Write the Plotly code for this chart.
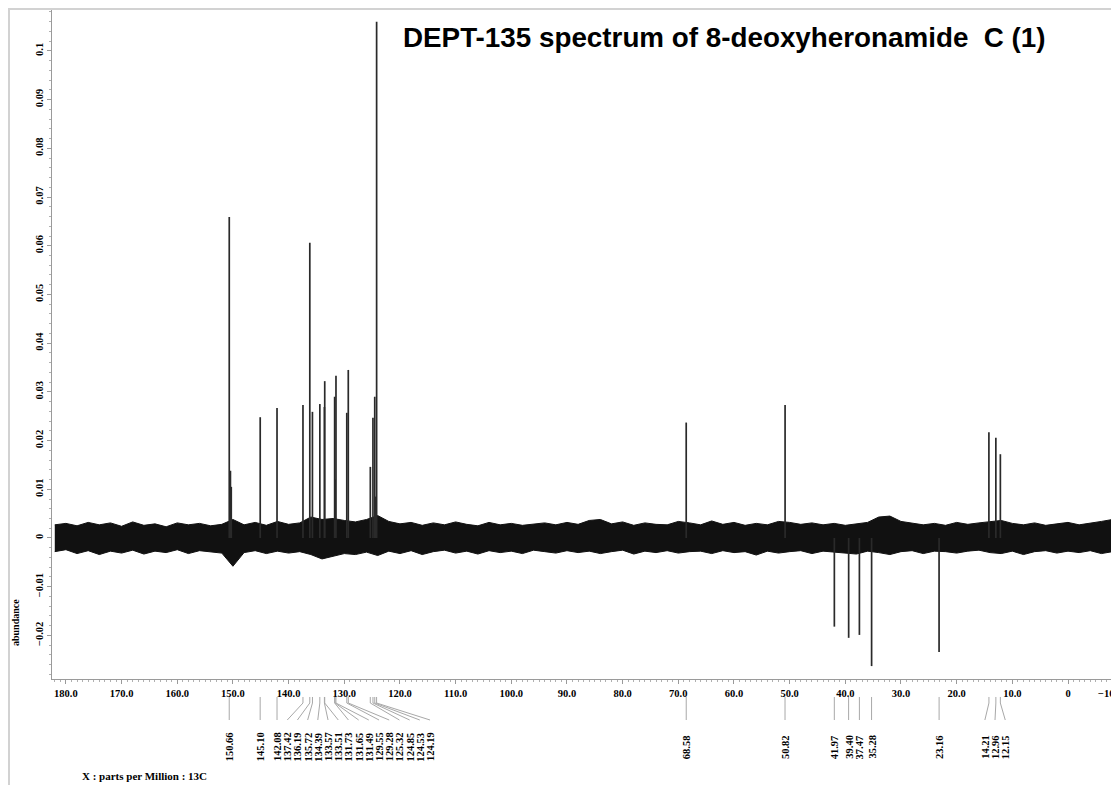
import plotly.graph_objects as go

# ---------------- data ----------------
peak_ppm = [150.66, 145.10, 142.08, 137.42, 136.19, 135.72, 134.39, 133.57, 133.51,
            131.73, 131.65, 131.49, 129.55, 129.28, 125.32, 124.85, 124.53, 124.19,
            68.58, 50.82, 41.97, 39.40, 37.47, 35.28, 23.16, 14.21, 12.96, 12.15]
peak_height = [0.0659, 0.0248, 0.0267, 0.0273, 0.0606, 0.0259, 0.0275, 0.0269, 0.0322,
               0.0290, 0.0120, 0.0333, 0.0257, 0.0345, 0.0146, 0.0247, 0.0290, 0.1060,
               0.0237, 0.0273, -0.0182, -0.0205, -0.0199, -0.0263, -0.0234, 0.0217, 0.0206, 0.0172]
peak_labels = ["150.66", "145.10", "142.08", "137.42", "136.19", "135.72", "134.39", "133.57", "133.51",
               "131.73", "131.65", "131.49", "129.55", "129.28", "125.32", "124.85", "124.53", "124.19",
               "68.58", "50.82", "41.97", "39.40", "37.47", "35.28", "23.16", "14.21", "12.96", "12.15"]

shoulder_ppm = [150.45, 150.30, 124.35]
shoulder_height = [0.0138, 0.0105, 0.0085]

# baseline noise envelope, read every 2 ppm from 182 down to -10
noise_ppm = list(range(182, -11, -2))
noise_hi = [0.0027, 0.0030, 0.0025, 0.0032, 0.0027, 0.0031, 0.0024, 0.0033, 0.0026, 0.0029,
            0.0023, 0.0031, 0.0027, 0.0030, 0.0025, 0.0028, 0.0038, 0.0027, 0.0032, 0.0026,
            0.0034, 0.0028, 0.0031, 0.0043, 0.0038, 0.0040, 0.0036, 0.0033, 0.0038, 0.0046,
            0.0034, 0.0029, 0.0032, 0.0026, 0.0031, 0.0027, 0.0033, 0.0028, 0.0025, 0.0032,
            0.0027, 0.0030, 0.0026, 0.0029, 0.0031, 0.0027, 0.0032, 0.0028, 0.0036, 0.0038,
            0.0029, 0.0033, 0.0026, 0.0031, 0.0028, 0.0027, 0.0034, 0.0031, 0.0027, 0.0035,
            0.0028, 0.0032, 0.0026, 0.0030, 0.0027, 0.0034, 0.0032, 0.0028, 0.0031, 0.0027,
            0.0030, 0.0026, 0.0029, 0.0032, 0.0043, 0.0045, 0.0034, 0.0031, 0.0027, 0.0030,
            0.0026, 0.0032, 0.0028, 0.0031, 0.0034, 0.0036, 0.0030, 0.0027, 0.0031, 0.0026,
            0.0029, 0.0032, 0.0027, 0.0030, 0.0034, 0.0038, 0.0033]
noise_lo = [-0.0028, -0.0024, -0.0032, -0.0026, -0.0034, -0.0027, -0.0031, -0.0025, -0.0033, -0.0027,
            -0.0030, -0.0024, -0.0032, -0.0026, -0.0028, -0.0031, -0.0058, -0.0030, -0.0026, -0.0032,
            -0.0027, -0.0031, -0.0028, -0.0034, -0.0043, -0.0038, -0.0032, -0.0034, -0.0029, -0.0036,
            -0.0027, -0.0032, -0.0026, -0.0034, -0.0028, -0.0025, -0.0031, -0.0027, -0.0033, -0.0026,
            -0.0030, -0.0027, -0.0032, -0.0025, -0.0028, -0.0031, -0.0026, -0.0030, -0.0027, -0.0032,
            -0.0028, -0.0025, -0.0033, -0.0027, -0.0030, -0.0026, -0.0031, -0.0028, -0.0027, -0.0032,
            -0.0026, -0.0030, -0.0028, -0.0035, -0.0027, -0.0031, -0.0028, -0.0026, -0.0032, -0.0027,
            -0.0030, -0.0031, -0.0033, -0.0027, -0.0030, -0.0034, -0.0028, -0.0026, -0.0032, -0.0027,
            -0.0028, -0.0031, -0.0027, -0.0025, -0.0030, -0.0032, -0.0027, -0.0034, -0.0028, -0.0026,
            -0.0031, -0.0027, -0.0030, -0.0026, -0.0032, -0.0028, -0.0031]

x_tick_vals = [180, 170, 160, 150, 140, 130, 120, 110, 100, 90, 80, 70, 60, 50, 40, 30, 20, 10, 0]
x_tick_text = ["180.0", "170.0", "160.0", "150.0", "140.0", "130.0", "120.0", "110.0", "100.0",
               "90.0", "80.0", "70.0", "60.0", "50.0", "40.0", "30.0", "20.0", "10.0", "0"]
x_extra_text = "\u221210."

title_text = "DEPT-135 spectrum of 8-deoxyheronamide  C (1)"
y_title = "abundance"
x_footer = "X : parts per Million : 13C"

# ---------------- layout geometry ----------------
OFF = 8                      # page body margin of the html page
SW, SH = 1119, 785           # screen size
W, H = SW - OFF, SH - OFF    # figure size
# plot area in screen pixels: x 52..1119, y 10..679
ML, MR, MT, MB = 52 - OFF, 0, 10 - OFF, H - (679 - OFF)
PW = W - ML - MR
PH = H - MT - MB
XR = [182.5, -9.16]
YR = [-0.02895, 0.1084]

SERIF = "Times New Roman, Liberation Serif, serif"
SANS = "Arial, Liberation Sans, sans-serif"


def ppm_to_px(p):
    """screen x pixel of a ppm value"""
    return OFF + ML + (XR[0] - p) / (XR[0] - XR[1]) * PW


def pxx(sx):
    return (sx - OFF - ML) / PW


def pxy(sy):
    return (H - MB - (sy - OFF)) / PH


# ---------------- label spreading: centre clusters, push right ----------------
GAP = 10.2
order = sorted(range(len(peak_ppm)), key=lambda i: ppm_to_px(peak_ppm[i]))
peak_px = [ppm_to_px(peak_ppm[i]) for i in order]


def place(cl):
    c = sum(peak_px[k] for k in cl) / len(cl)
    n = len(cl)
    return [c + (j - (n - 1) / 2) * GAP for j in range(n)]


label_px_sorted = []
k = 0
n_all = len(order)
while k < n_all:
    cl = [k]
    k += 1
    while k < n_all and place([k])[0] - place(cl)[-1] < GAP:
        cl.append(k)
        k += 1
    pos = place(cl)
    if label_px_sorted and pos[0] - label_px_sorted[-1] < GAP:
        shift = label_px_sorted[-1] + GAP - pos[0]
        pos = [p + shift for p in pos]
    label_px_sorted += pos

label_px = [0] * len(peak_ppm)
for j, i in enumerate(order):
    label_px[i] = label_px_sorted[j]

# ---------------- traces ----------------
fig = go.Figure()

band_x = noise_ppm + noise_ppm[::-1]
band_y = noise_hi + noise_lo[::-1]
fig.add_trace(go.Scatter(x=band_x, y=band_y, mode="lines", fill="toself",
                         fillcolor="#111111", line=dict(color="#111111", width=1),
                         hoverinfo="skip", showlegend=False))

sx, sy = [], []
for p, h in zip(list(peak_ppm) + shoulder_ppm, list(peak_height) + shoulder_height):
    sx += [p, p, None]
    sy += [0, h, None]
fig.add_trace(go.Scatter(x=sx, y=sy, mode="lines",
                         line=dict(color="#2a2a2a", width=1.7),
                         showlegend=False, hoverinfo="skip"))

# ---------------- annotations & shapes ----------------
ann = []
shapes = []
for i, lab in enumerate(peak_labels):
    p0 = ppm_to_px(peak_ppm[i])
    lx = label_px[i]
    path = "M {:.4f},{:.4f} L {:.4f},{:.4f} L {:.4f},{:.4f}".format(
        pxx(p0), pxy(697), pxx(p0), pxy(703), pxx(lx), pxy(720))
    shapes.append(dict(type="path", xref="paper", yref="paper", path=path,
                       line=dict(color="#a8a8a8", width=1)))
    ann.append(dict(x=pxx(lx), y=pxy(747), xref="paper", yref="paper", text=lab,
                    showarrow=False, textangle=-90, xanchor="center", yanchor="middle",
                    font=dict(family=SERIF, size=10.5, color="black", weight="bold")))

ann.append(dict(x=pxx(SW), y=pxy(693), xref="paper", yref="paper",
                text=x_extra_text, showarrow=False, xanchor="right", yanchor="middle",
                font=dict(family=SERIF, size=10.5, color="black", weight="bold")))
ann.append(dict(x=pxx(724), y=pxy(37), xref="paper", yref="paper", text=title_text,
                showarrow=False, xanchor="center", yanchor="middle",
                font=dict(family=SANS, size=27.8, color="black", weight="bold")))
ann.append(dict(x=pxx(15), y=pxy(623), xref="paper", yref="paper", text=y_title,
                showarrow=False, textangle=-90, xanchor="center", yanchor="middle",
                font=dict(family=SERIF, size=10, color="black", weight="bold")))
ann.append(dict(x=pxx(80), y=pxy(776), xref="paper", yref="paper", text=x_footer,
                showarrow=False, xanchor="left", yanchor="middle",
                font=dict(family=SERIF, size=11, color="black", weight="bold")))

shapes.append(dict(type="rect", xref="paper", yref="paper",
                   x0=pxx(OFF + 1), y0=pxy(OFF + 1), x1=pxx(SW + 20), y1=pxy(SH + 20),
                   line=dict(color="#d2d2d2", width=2)))

fig.update_layout(
    width=W, height=H,
    margin=dict(l=ML, r=MR, t=MT, b=MB, pad=0, autoexpand=False),
    paper_bgcolor="white", plot_bgcolor="white",
    showlegend=False,
    annotations=ann, shapes=shapes,
    xaxis=dict(range=XR, showgrid=False, zeroline=False, showline=True,
               linecolor="#9a9a9a", linewidth=1, ticks="outside", ticklen=4,
               tickcolor="#9a9a9a", tickmode="array", tickvals=x_tick_vals,
               ticktext=x_tick_text,
               tickfont=dict(family=SERIF, size=10.5, color="black", weight="bold"),
               minor=dict(dtick=1, tick0=0, ticks="outside", ticklen=2, tickcolor="#b0b0b0")),
    yaxis=dict(range=YR, showgrid=False, zeroline=False, showline=True,
               linecolor="#9a9a9a", linewidth=1, ticks="outside", ticklen=4,
               tickcolor="#9a9a9a", tickmode="linear", tick0=0, dtick=0.01,
               tickangle=-90,
               tickfont=dict(family=SERIF, size=10.5, color="black", weight="bold"),
               minor=dict(dtick=0.002, tick0=0, ticks="outside", ticklen=2, tickcolor="#b0b0b0")),
)

fig.write_html("out.html")
